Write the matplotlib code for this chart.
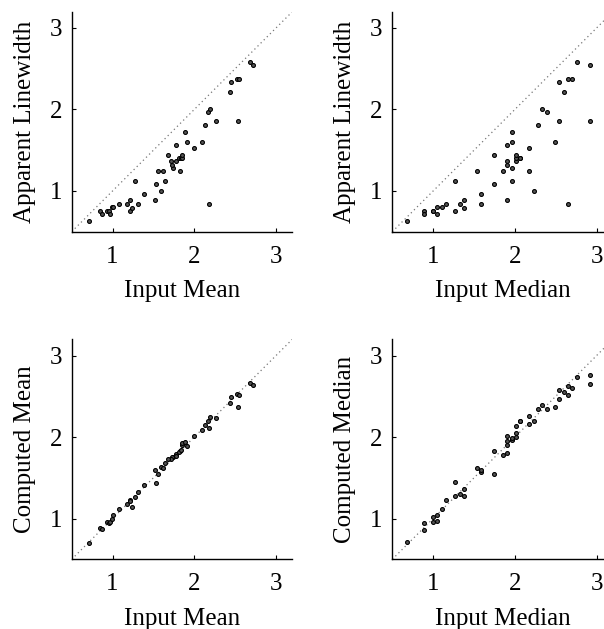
import matplotlib
matplotlib.use('Agg')
import matplotlib.pyplot as plt
import numpy as np

plt.rcParams['font.family'] = ['Liberation Serif', 'DejaVu Serif']
plt.rcParams['mathtext.fontset'] = 'stix'

# values, one entry per sample
input_mean = [0.706, 0.845, 0.931, 0.951, 1.216, 0.873, 0.971, 0.992, 1.008, 1.233,
              1.073, 1.176, 1.31, 2.176, 1.216, 1.522, 1.384, 1.588, 1.531, 1.273,
              1.641, 1.551, 1.62, 1.829, 1.735, 1.727, 1.718, 1.776, 1.808, 1.837,
              1.853, 1.673, 1.853, 1.996, 1.771, 1.906, 2.09, 1.886, 2.127, 2.261,
              2.531, 2.171, 2.188, 2.433, 2.449, 2.527, 2.547, 2.682, 2.714]
input_median = [0.686, 0.894, 1.0, 1.0, 1.269, 0.894, 1.053, 1.053, 1.11, 1.376,
                1.159, 1.327, 1.588, 2.649, 1.376, 1.906, 1.588, 2.229, 1.743, 1.269,
                1.959, 1.531, 1.857, 2.171, 1.959, 1.906, 1.906, 2.016, 2.016, 2.069,
                2.069, 1.743, 2.016, 2.171, 1.902, 1.959, 2.49, 1.959, 2.278, 2.543,
                2.918, 2.388, 2.331, 2.6, 2.543, 2.649, 2.702, 2.759, 2.918]
apparent = [0.634, 0.756, 0.756, 0.748, 0.756, 0.715, 0.715, 0.797, 0.797, 0.793,
            0.837, 0.837, 0.837, 0.837, 0.884, 0.884, 0.959, 1.0, 1.081, 1.118,
            1.118, 1.244, 1.244, 1.244, 1.28, 1.321, 1.362, 1.362, 1.402, 1.402,
            1.402, 1.447, 1.447, 1.528, 1.565, 1.606, 1.606, 1.728, 1.809, 1.854,
            1.854, 1.972, 2.008, 2.215, 2.337, 2.378, 2.378, 2.581, 2.541]
computed_mean = [0.703, 0.886, 0.959, 0.94, 1.228, 0.874, 0.96, 1.0, 1.045, 1.146,
                 1.122, 1.179, 1.325, 2.106, 1.21, 1.593, 1.411, 1.634, 1.431, 1.268,
                 1.683, 1.549, 1.622, 1.83, 1.76, 1.75, 1.736, 1.793, 1.817, 1.846,
                 1.902, 1.736, 1.927, 2.008, 1.77, 1.89, 2.089, 1.939, 2.146, 2.232,
                 2.366, 2.195, 2.244, 2.415, 2.488, 2.528, 2.52, 2.667, 2.634]
computed_median = [0.711, 0.947, 1.016, 0.955, 1.28, 0.862, 0.976, 1.041, 1.122, 1.362,
                   1.224, 1.297, 1.577, 2.516, 1.28, 1.902, 1.59, 2.195, 1.833, 1.451,
                   1.972, 1.626, 1.776, 2.163, 1.98, 1.951, 2.012, 1.996, 2.045, 2.199,
                   2.2, 1.549, 2.138, 2.26, 1.805, 1.965, 2.374, 1.99, 2.35, 2.463,
                   2.65, 2.341, 2.39, 2.549, 2.577, 2.622, 2.602, 2.74, 2.756]

panels = [
    (input_mean, apparent, 'Input Mean', 'Apparent Linewidth'),
    (input_median, apparent, 'Input Median', 'Apparent Linewidth'),
    (input_mean, computed_mean, 'Input Mean', 'Computed Mean'),
    (input_median, computed_median, 'Input Median', 'Computed Median'),
]

W, H = 604, 629
fig = plt.figure(figsize=(W / 100, H / 100), dpi=100)

boxes = [(71.7, 11.7), (392.3, 11.7), (71.7, 339.3), (392.3, 339.3)]
size_w, size_h = 220.6, 220.0
lim = (0.5, 3.2)

for (x, y, xl, yl), (l, t) in zip(panels, boxes):
    ax = fig.add_axes([l / W, 1 - (t + size_h) / H, size_w / W, size_h / H])
    ax.plot(lim, lim, linestyle=(0, (1, 2.5)), color='#777777', lw=0.9)
    ax.plot(x, y, 'o', ms=2.8, mfc='#555555', mec='k', mew=0.8, linestyle='none')
    ax.set_xlim(lim)
    ax.set_ylim(lim)
    ax.set_xticks([1, 2, 3])
    ax.set_yticks([1, 2, 3])
    ax.spines['top'].set_visible(False)
    ax.spines['right'].set_visible(False)
    for s in ('left', 'bottom'):
        ax.spines[s].set_linewidth(1.0)
    ax.tick_params(direction='in', length=3, width=0.8, labelsize=18, pad=7,
                   top=False, right=False)
    ax.tick_params(axis='x', pad=10)
    ax.set_xlabel(xl, fontsize=18, labelpad=9)
    ax.set_ylabel(yl, fontsize=18, labelpad=10)

fig.savefig('out.png', dpi=100)
